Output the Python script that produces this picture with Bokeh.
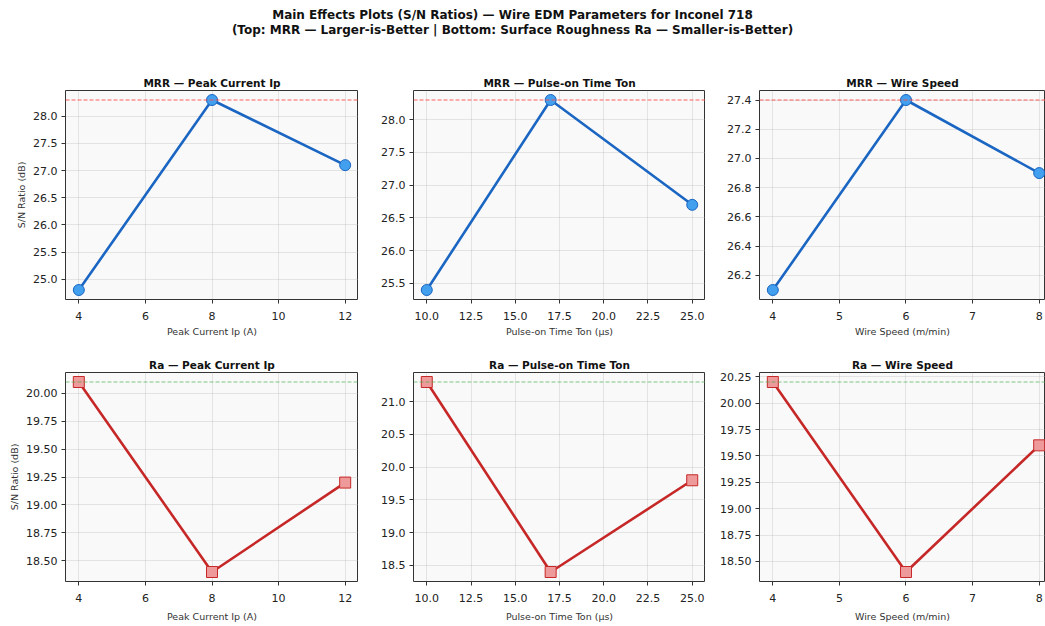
from bokeh.plotting import figure
from bokeh.layouts import column, row
from bokeh.models import FixedTicker, NumeralTickFormatter, Range1d, Span, ColumnDataSource
from bokeh.core.properties import value
from bokeh.embed import file_html
from bokeh.resources import INLINE

FONT = "DejaVu Sans"

# ---- data ----
ip_levels = [4, 8, 12]
ton_levels = [10, 17, 25]
ws_levels = [4, 6, 8]

mrr_ip = [24.8, 28.3, 27.1]
mrr_ton = [25.4, 28.3, 26.7]
mrr_ws = [26.1, 27.4, 26.9]

ra_ip = [20.1, 18.4, 19.2]
ra_ton = [21.3, 18.4, 19.8]
ra_ws = [20.2, 18.4, 19.6]

titles_top = ["MRR \u2014 Peak Current Ip", "MRR \u2014 Pulse-on Time Ton", "MRR \u2014 Wire Speed"]
titles_bot = ["Ra \u2014 Peak Current Ip", "Ra \u2014 Pulse-on Time Ton", "Ra \u2014 Wire Speed"]
xlabels = ["Peak Current Ip (A)", "Pulse-on Time Ton (\u03bcs)", "Wire Speed (m/min)"]
ylabel = "S/N Ratio (dB)"

xticks_ip = [4, 6, 8, 10, 12]
xticks_ton = [10, 12.5, 15, 17.5, 20, 22.5, 25]
xticks_ws = [4, 5, 6, 7, 8]

yticks_mrr_ip = [25.0, 25.5, 26.0, 26.5, 27.0, 27.5, 28.0]
yticks_mrr_ton = [25.5, 26.0, 26.5, 27.0, 27.5, 28.0]
yticks_mrr_ws = [26.2, 26.4, 26.6, 26.8, 27.0, 27.2, 27.4]
yticks_ra_ip = [18.5, 18.75, 19.0, 19.25, 19.5, 19.75, 20.0]
yticks_ra_ton = [18.5, 19.0, 19.5, 20.0, 20.5, 21.0]
yticks_ra_ws = [18.5, 18.75, 19.0, 19.25, 19.5, 19.75, 20.0, 20.25]

suptitle1 = "Main Effects Plots (S/N Ratios) \u2014 Wire EDM Parameters for Inconel 718"
suptitle2 = "(Top: MRR \u2014 Larger-is-Better | Bottom: Surface Roughness Ra \u2014 Smaller-is-Better)"


def pad_range(vals, frac=0.05):
    lo, hi = min(vals), max(vals)
    d = (hi - lo) * frac
    return lo - d, hi + d


def make_panel(xs, ys, title, xlabel, show_ylabel, xticks, xfmt, yticks, yfmt,
               kind, width, bl, br, bt, bb, height, xlab_standoff, xmax_override=None):
    x0, x1 = pad_range(xs)
    if xmax_override is not None:
        x1 = xmax_override
    y0, y1 = pad_range(ys)
    p = figure(width=width, height=height, output_backend="svg", toolbar_location=None,
               x_range=Range1d(x0, x1), y_range=Range1d(y0, y1),
               min_border_left=bl, min_border_right=br, min_border_top=bt, min_border_bottom=bb,
               background_fill_color="#f9f9f9", border_fill_color="white",
               outline_line_color="#333333", outline_line_width=1)
    p.title.text = title
    p.title.text_font = FONT
    p.title.text_font_size = "10.5px"
    p.title.text_font_style = "bold"
    p.title.text_color = "#111111"
    p.title.align = "center"
    p.title.standoff = 4
    for ax in (p.xaxis[0], p.yaxis[0]):
        ax.axis_line_color = None
        ax.major_tick_line_color = "#333333"
        ax.major_tick_out = 4
        ax.major_tick_in = 0
        ax.minor_tick_line_color = None
        ax.major_label_text_font = FONT
        ax.major_label_text_font_size = "11px"
        ax.major_label_text_color = "#222222"
        ax.axis_label_text_font = FONT
        ax.axis_label_text_font_size = "9.5px"
        ax.axis_label_text_font_style = "normal"
        ax.axis_label_text_color = "#333333"
        ax.major_label_standoff = 4
    p.xaxis[0].ticker = FixedTicker(ticks=xticks)
    p.xaxis[0].formatter = NumeralTickFormatter(format=xfmt)
    p.xaxis[0].major_label_standoff = 8
    p.xaxis[0].axis_label = xlabel
    p.xaxis[0].axis_label_standoff = xlab_standoff
    p.yaxis[0].ticker = FixedTicker(ticks=yticks)
    p.yaxis[0].formatter = NumeralTickFormatter(format=yfmt)
    if show_ylabel:
        p.yaxis[0].axis_label = ylabel
        p.yaxis[0].axis_label_standoff = 3
    p.grid.grid_line_color = "#b0b0b0"
    p.grid.grid_line_alpha = 0.3
    p.grid.grid_line_width = 1

    src = ColumnDataSource(dict(x=xs, y=ys))
    if kind == "mrr":
        ref = Span(location=max(ys), dimension="width", line_color="#ff4d4d", line_alpha=0.9,
                   line_width=1, line_dash="4 2")
        p.add_layout(ref)
        p.line("x", "y", source=src, line_color="#1a66c2", line_width=2.6)
        p.scatter("x", "y", source=src, marker="circle", size=11, fill_color="#42a0ee",
                  line_color="#1a66c2", line_width=1)
    else:
        ref = Span(location=max(ys), dimension="width", line_color="#4caf50", line_alpha=0.7,
                   line_width=1, line_dash="4 2")
        p.add_layout(ref)
        p.line("x", "y", source=src, line_color="#c62828", line_width=2.6)
        p.scatter("x", "y", source=src, marker="square", size=11, fill_color="#ef9a9a",
                  line_color="#c62828", line_width=1)
    return p


# ---- suptitle ----
head = figure(width=1045, height=58, output_backend="svg", toolbar_location=None,
              x_range=Range1d(0, 1045), y_range=Range1d(0, 58),
              min_border=0, outline_line_color=None)
head.axis.visible = False
head.grid.visible = False
hsrc = ColumnDataSource(dict(x=[512, 512], y=[44, 29], t=[suptitle1, suptitle2]))
head.text("x", "y", text="t", source=hsrc, text_font=value(FONT), text_font_size="12px",
          text_font_style="bold", text_align="center", text_baseline="middle", text_color="#111111")

# column geometry
W = [358, 347, 340]
BL = [65, 55, 54]
BR = [0, 0, 0]
H_TOP, H_BOT = 282, 286

top = [
    make_panel(ip_levels, mrr_ip, titles_top[0], xlabels[0], True, xticks_ip, "0", yticks_mrr_ip, "0.0",
               "mrr", W[0], BL[0], BR[0], 32, 41, H_TOP, 3),
    make_panel(ton_levels, mrr_ton, titles_top[1], xlabels[1], False, xticks_ton, "0.0", yticks_mrr_ton, "0.0",
               "mrr", W[1], BL[1], BR[1], 32, 41, H_TOP, 3),
    make_panel(ws_levels, mrr_ws, titles_top[2], xlabels[2], False, xticks_ws, "0", yticks_mrr_ws, "0.0",
               "mrr", W[2], BL[2], BR[2], 32, 41, H_TOP, 3, xmax_override=8.095),
]
bot = [
    make_panel(ip_levels, ra_ip, titles_bot[0], xlabels[0], True, xticks_ip, "0", yticks_ra_ip, "0.00",
               "ra", W[0], BL[0], BR[0], 32, 45, H_BOT, 6),
    make_panel(ton_levels, ra_ton, titles_bot[1], xlabels[1], False, xticks_ton, "0.0", yticks_ra_ton, "0.0",
               "ra", W[1], BL[1], BR[1], 32, 45, H_BOT, 6),
    make_panel(ws_levels, ra_ws, titles_bot[2], xlabels[2], False, xticks_ws, "0", yticks_ra_ws, "0.00",
               "ra", W[2], BL[2], BR[2], 32, 45, H_BOT, 6, xmax_override=8.095),
]

layout = column(head, row(*top, spacing=0), row(*bot, spacing=0), spacing=0)

open("out.html", "w").write(file_html(layout, INLINE))
